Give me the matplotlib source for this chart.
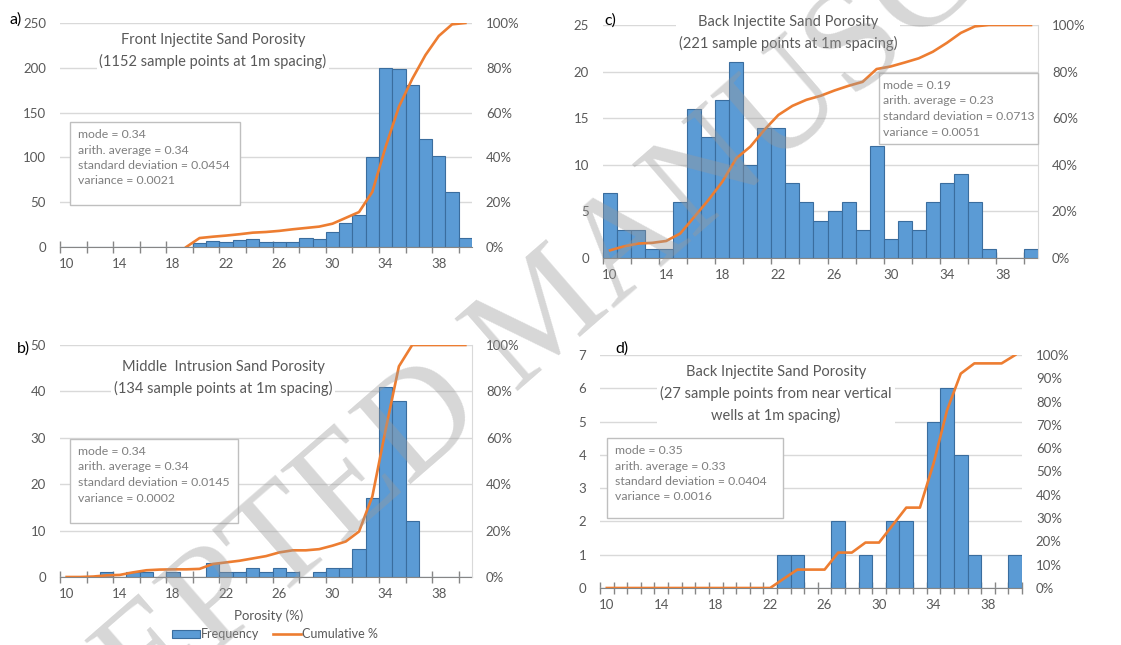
import numpy as np
import matplotlib
matplotlib.use("Agg")
import matplotlib.pyplot as plt
from matplotlib.patches import Rectangle, Patch
from matplotlib.lines import Line2D
from matplotlib.ticker import PercentFormatter, FixedLocator

# porosity bins (%), one bar per bin
bins = list(range(10, 41))
xlabels = ['10', '14', '18', '22', '26', '30', '34', '38']

# a) front injectite
front_freq = [0, 0, 0, 0, 0, 0, 0, 0, 0, 0,
              5, 7, 6, 8, 9, 6, 6, 6, 10, 9,
              17, 27, 36, 100, 200, 199, 181, 120, 102, 61, 10]
front_cum = [np.nan] * 9 + [0.0,
             4.0, 4.6, 5.1, 5.7, 6.4, 6.7, 7.2, 7.9, 8.5, 9.1,
             10.4, 13.0, 15.6, 24.6, 44.7, 62.6, 75.0, 85.7, 94.2, 99.4, 100.0]
front_yticks = [0, 50, 100, 150, 200, 250]

# b) middle intrusion
middle_freq = [0, 0, 0, 1, 0, 1, 1, 0, 1, 0,
               0, 3, 1, 1, 2, 1, 2, 1, 0, 1,
               2, 2, 6, 17, 41, 38, 12, 0, 0, 0, 0]
middle_cum = [0.0, 0.0, 0.2, 0.7, 0.9, 2.0, 2.9, 3.2, 3.3, 3.3,
              3.5, 5.6, 6.3, 7.0, 8.0, 9.0, 10.6, 11.5, 11.5, 12.0,
              13.5, 15.3, 19.6, 34.7, 63.5, 90.8, 100, 100, 100, 100, 100]
middle_yticks = [0, 10, 20, 30, 40, 50]

# c) back injectite
back_freq = [7, 3, 3, 1, 1, 6, 16, 13, 17, 21,
             10, 14, 14, 8, 6, 4, 5, 6, 3, 12,
             2, 4, 3, 6, 8, 9, 6, 1, 0, 0, 1]
back_cum = [3.3, 5.0, 6.2, 6.5, 7.3, 10.5, 17.6, 24.8, 32.7, 42.8,
            47.8, 55.0, 61.4, 65.3, 67.9, 69.6, 71.9, 73.9, 75.6, 81.1,
            82.2, 83.9, 85.7, 88.5, 92.3, 96.6, 99.4, 100, 100, 100, 100]
back_yticks = [0, 5, 10, 15, 20, 25]

# d) back injectite, near vertical wells
wells_freq = [0, 0, 0, 0, 0, 0, 0, 0, 0, 0,
              0, 0, 0, 1, 1, 0, 0, 2, 0, 1,
              0, 2, 2, 0, 5, 6, 4, 1, 0, 0, 1]
wells_cum = [0, 0, 0, 0, 0, 0, 0, 0, 0, 0,
             0, 0, 0, 4.0, 7.9, 7.9, 7.9, 15.2, 15.2, 19.5,
             19.5, 27.0, 34.5, 34.5, 53.4, 76.4, 92.0, 96.4, 96.4, 96.4, 100]
wells_yticks = [0, 1, 2, 3, 4, 5, 6, 7]

pct20 = [0, 0.2, 0.4, 0.6, 0.8, 1.0]
pct10 = [0, 0.1, 0.2, 0.3, 0.4, 0.5, 0.6, 0.7, 0.8, 0.9, 1.0]

BLUE = '#5B9BD5'
EDGE = '#3A6D9E'
ORANGE = '#ED7D31'
GRID = '#D9D9D9'
TXT = '#595959'
FONT = 'Lato'

W, H = 1121, 645
fig = plt.figure(figsize=(W / 100, H / 100), dpi=100)
plt.rcParams['font.family'] = FONT


def rect(l, t, r, b):
    return [l / W, 1 - b / H, (r - l) / W, (b - t) / H]


def fx(x):
    return x / W


def fy(y):
    return 1 - y / H


def panel(box, freq, cum, yticks, rticks, tick_every, right_spine=False):
    ax = fig.add_axes(rect(*box))
    x = np.arange(len(bins))
    ax.bar(x, freq, width=1.0, color=BLUE, edgecolor=EDGE, linewidth=0.8, zorder=2)
    ax.set_xlim(-0.5, len(bins) - 0.5)
    ax.set_ylim(0, yticks[-1])
    ax.set_yticks(yticks)
    ax.yaxis.grid(True, color=GRID, lw=1)
    ax.set_axisbelow(True)
    ax.set_xticks(x[::4])
    ax.set_xticklabels(xlabels)
    ax.xaxis.set_minor_locator(FixedLocator(np.arange(-0.5, len(bins), tick_every)))
    ax.tick_params(axis='x', which='major', length=0, pad=8, labelsize=9.5, labelcolor=TXT)
    ax.tick_params(axis='x', which='minor', direction='inout', length=8, width=1, color='#868686')
    ax.tick_params(axis='y', length=0, pad=10, labelsize=9.5, labelcolor=TXT)
    for s in ['left', 'top', 'right']:
        ax.spines[s].set_visible(False)
    ax.spines['bottom'].set_color('#868686')
    ax.spines['bottom'].set_zorder(3)

    ax2 = ax.twinx()
    ax2.plot(x, np.array(cum, dtype=float) / 100, color=ORANGE, lw=1.9,
             solid_joinstyle='round', zorder=4)
    ax2.set_ylim(0, 1)
    ax2.set_yticks(rticks)
    ax2.yaxis.set_major_formatter(PercentFormatter(1.0, decimals=0))
    ax2.tick_params(axis='y', length=0, pad=10, labelsize=9.5, labelcolor=TXT)
    for s in ['left', 'top', 'bottom']:
        ax2.spines[s].set_visible(False)
    if right_spine:
        ax2.spines['right'].set_color(GRID)
    else:
        ax2.spines['right'].set_visible(False)
    return ax, ax2


def title(x, y, s):
    fig.text(fx(x), fy(y), s, ha='center', va='center', fontsize=10.5, color=TXT,
             linespacing=1.58, zorder=5,
             bbox=dict(facecolor='white', edgecolor='none', pad=2))


def stats(l, t, r, b, lines, inset=8):
    fig.add_artist(Rectangle((fx(l), fy(b)), fx(r) - fx(l), fy(t) - fy(b),
                             transform=fig.transFigure, facecolor='white',
                             edgecolor='#BFBFBF', linewidth=1, zorder=5))
    fig.text(fx(l + inset), fy(t + 7), '\n'.join(lines), ha='left', va='top',
             fontsize=8.8, color='#7F7F7F', linespacing=1.5, zorder=6)


# a)
panel((60, 23, 472, 247), front_freq, front_cum, front_yticks, pct20, 2)
title(213, 51, 'Front Injectite Sand Porosity\n(1152 sample points at 1m spacing)')
stats(70, 122, 240, 205, ['mode = 0.34', 'arith. average = 0.34',
                          'standard deviation = 0.0454', 'variance = 0.0021'])
fig.text(fx(10), fy(20), 'a)', fontsize=11.5, va='center')

# c)
panel((603, 25, 1038, 258), back_freq, back_cum, back_yticks, pct20, 2, right_spine=True)
title(788, 33, 'Back Injectite Sand Porosity\n(221 sample points at 1m spacing)')
stats(879, 73, 1038, 144, ['mode = 0.19', 'arith. average = 0.23',
                           'standard deviation = 0.0713', 'variance = 0.0051'], inset=4)
fig.text(fx(604), fy(21), 'c)', fontsize=11.5, va='center')

# b)
panel((60, 345, 472, 577), middle_freq, middle_cum, middle_yticks, pct20, 2, right_spine=True)
title(223, 378, 'Middle  Intrusion Sand Porosity\n(134 sample points at 1m spacing)')
stats(70, 439, 238, 523, ['mode = 0.34', 'arith. average = 0.34',
                          'standard deviation = 0.0145', 'variance = 0.0002'])
fig.text(fx(17), fy(349), 'b)', fontsize=11.5, va='center')
fig.text(fx(269), fy(616), 'Porosity (%)', ha='center', va='center', fontsize=9.5, color=TXT)
handles = [Patch(facecolor=BLUE, edgecolor=EDGE, linewidth=0.8),
           Line2D([], [], color=ORANGE, lw=1.9)]
fig.legend(handles, ['Frequency', 'Cumulative %'], loc='center', ncol=2,
           bbox_to_anchor=(fx(275), fy(634)), frameon=False, fontsize=9,
           labelcolor=TXT, handlelength=2.2, handleheight=0.6,
           handletextpad=0.1, columnspacing=1.1)

# d)
panel((600, 355, 1022, 588), wells_freq, wells_cum, wells_yticks, pct10, 1)
title(776, 394, 'Back Injectite Sand Porosity\n(27 sample points from near vertical\nwells at 1m spacing)')
stats(607, 438, 783, 518, ['mode = 0.35', 'arith. average = 0.33',
                           'standard deviation = 0.0404', 'variance = 0.0016'])
fig.text(fx(615), fy(349), 'd)', fontsize=11.5, va='center')

# diagonal watermark
fig.text(fx(548), fy(318), 'ACCEPTED MANUSCRIPT', rotation=41, rotation_mode='anchor',
         ha='center', va='center', fontsize=105, family='Liberation Serif',
         color='#9A9A9A', alpha=0.4, zorder=20)

fig.savefig('out.png', dpi=100)
